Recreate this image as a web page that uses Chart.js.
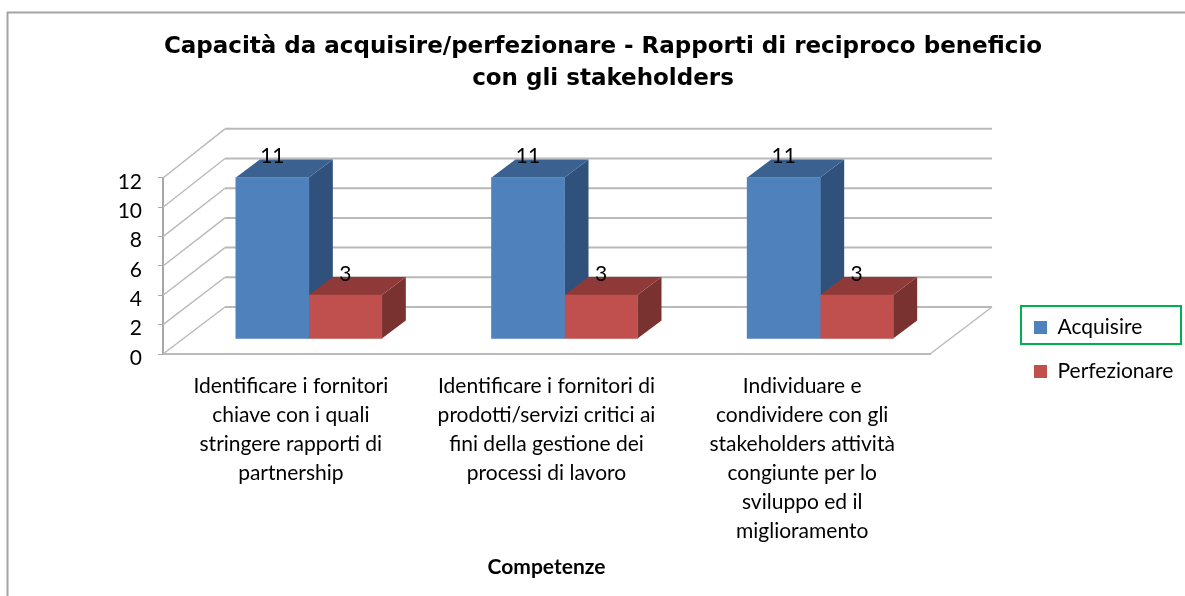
<!DOCTYPE html>
<html lang="it">
<head>
<meta charset="utf-8">
<title>Capacità da acquisire/perfezionare</title>
<script src="https://cdn.jsdelivr.net/npm/chart.js@4"></script>
<style>
  html, body { margin: 0; padding: 0; background: #fff; overflow: hidden; }
  #wrap { width: 1185px; height: 596px; }
</style>
</head>
<body>
<div id="wrap"><canvas id="chart" width="1185" height="596"></canvas></div>
<script>
const titleLines = [
  'Capacità da acquisire/perfezionare - Rapporti di reciproco beneficio',
  'con gli stakeholders',
];
const axisTitle = 'Competenze';
const categories = [
  ['Identificare i fornitori', 'chiave con i quali', 'stringere rapporti di', 'partnership'],
  ['Identificare i fornitori di', 'prodotti/servizi critici ai', 'fini della gestione dei', 'processi di lavoro'],
  ['Individuare e', 'condividere con gli', 'stakeholders attività', 'congiunte per lo', 'sviluppo ed il', 'miglioramento'],
];
const acquisire = [11, 11, 11];
const perfezionare = [3, 3, 3];

const LABEL_FONT = 'Lato, Carlito, sans-serif';
const GRID_COLOR = '#b9b9b9';

// 3D look: walls and bars are pushed back from the front plane of the scales
const WALL_DX = 62;
const WALL_DY = 47;
const WALL_RISE = 1.012;
const BAR_SHIFT_X = 18;
const BAR_SHIFT_Y = 15;
const BAR_DX = 24;
const BAR_DY = 18;

const shades = [
  { top: '#3b6191', side: '#30517b' },
  { top: '#8f3a38', side: '#7a3230' },
];

function fillPoly(ctx, color, points) {
  ctx.fillStyle = color;
  ctx.beginPath();
  points.forEach(([x, y], i) => (i ? ctx.lineTo(x, y) : ctx.moveTo(x, y)));
  ctx.closePath();
  ctx.fill();
}

function strokeLine(ctx, x1, y1, x2, y2) {
  ctx.beginPath();
  ctx.moveTo(x1, y1);
  ctx.lineTo(x2, y2);
  ctx.stroke();
}

const pseudo3d = {
  id: 'pseudo3d',
  afterLayout(chart) {
    // title is centred on the whole frame, legend sits low on the right
    chart.titleBlock.left = 21;
    chart.titleBlock.right = 1185;
    const { legend } = chart;
    legend.left = 1011;
    legend.right = 1185;
    legend.top = 294;
    legend.bottom = 460;
  },
  beforeDraw(chart) {
    const { ctx } = chart;
    ctx.save();
    ctx.strokeStyle = '#a3a3a3';
    ctx.lineWidth = 2;
    strokeLine(ctx, 7.5, 12, 7.5, 596);
    strokeLine(ctx, 7, 12.5, 1185, 12.5);
    ctx.restore();
  },
  beforeDatasetsDraw(chart) {
    const { ctx, scales } = chart;
    const { left, right } = scales.x;
    const floorY = scales.y.getPixelForValue(0);
    ctx.save();
    ctx.strokeStyle = GRID_COLOR;
    scales.y.ticks.forEach((tick) => {
      const y = scales.y.getPixelForValue(tick.value);
      const backY = floorY - WALL_DY - (floorY - y) * WALL_RISE;
      ctx.lineWidth = 1.4;
      strokeLine(ctx, left, y, left + WALL_DX, backY);
      ctx.lineWidth = 2;
      strokeLine(ctx, left + WALL_DX, backY, right + WALL_DX, backY);
    });
    ctx.lineWidth = 1.4;
    strokeLine(ctx, right, floorY, right + WALL_DX, floorY - WALL_DY);
    ctx.restore();

    // side and top faces of the bars, blue first so the red ones cover it
    ctx.save();
    ctx.translate(BAR_SHIFT_X, -BAR_SHIFT_Y);
    chart.data.datasets.forEach((dataset, i) => {
      chart.getDatasetMeta(i).data.forEach((bar) => {
        const l = bar.x - bar.width / 2;
        const r = bar.x + bar.width / 2;
        fillPoly(ctx, shades[i].side, [
          [r, bar.y], [r + BAR_DX, bar.y - BAR_DY],
          [r + BAR_DX, bar.base - BAR_DY], [r, bar.base],
        ]);
        fillPoly(ctx, shades[i].top, [
          [l, bar.y], [l + BAR_DX, bar.y - BAR_DY],
          [r + BAR_DX, bar.y - BAR_DY], [r, bar.y],
        ]);
      });
    });
    ctx.restore();
  },
  beforeDatasetDraw(chart) {
    chart.ctx.save();
    chart.ctx.translate(BAR_SHIFT_X, -BAR_SHIFT_Y);
  },
  afterDatasetDraw(chart) {
    chart.ctx.restore();
  },
  afterDatasetsDraw(chart) {
    const { ctx } = chart;
    ctx.save();
    ctx.fillStyle = '#000';
    ctx.font = `21px ${LABEL_FONT}`;
    ctx.textAlign = 'center';
    ctx.textBaseline = 'middle';
    chart.data.datasets.forEach((dataset, i) => {
      chart.getDatasetMeta(i).data.forEach((bar, j) => {
        ctx.fillText(dataset.data[j], bar.x + BAR_SHIFT_X, bar.y - BAR_SHIFT_Y - 21);
      });
    });
    ctx.restore();
  },
  afterDraw(chart) {
    // green selection box around the first legend entry
    const { ctx } = chart;
    ctx.save();
    ctx.strokeStyle = '#00b050';
    ctx.lineWidth = 2;
    ctx.strokeRect(1021, 306, 160, 38);
    ctx.restore();
  },
};

new Chart(document.getElementById('chart'), {
  type: 'bar',
  data: {
    labels: categories,
    datasets: [
      { label: 'Acquisire', data: acquisire, backgroundColor: '#4f81bd', barThickness: 73, clip: false },
      { label: 'Perfezionare', data: perfezionare, backgroundColor: '#c0504d', barThickness: 73, clip: false },
    ],
  },
  options: {
    responsive: false,
    animation: false,
    layout: { padding: { left: 0, right: 255, top: 0, bottom: 0 } },
    plugins: {
      tooltip: { enabled: false },
      title: {
        display: true,
        text: titleLines,
        color: '#000',
        font: { family: '"DejaVu Sans", Verdana, sans-serif', size: 23, weight: 'bold', lineHeight: 1.39 },
        padding: { top: 31, bottom: 83 },
      },
      legend: {
        position: 'chartArea',
        align: 'start',
        labels: {
          boxWidth: 13,
          boxHeight: 13,
          padding: 23,
          color: '#000',
          font: { family: LABEL_FONT, size: 21 },
        },
      },
    },
    scales: {
      x: {
        afterFit(scale) { scale.height = 242; },
        grid: { display: false },
        border: { color: GRID_COLOR, width: 2 },
        ticks: {
          color: '#000',
          autoSkip: false,
          maxRotation: 0,
          padding: 10,
          font: { family: LABEL_FONT, size: 21, lineHeight: 1.38 },
        },
        title: {
          display: true,
          text: axisTitle,
          color: '#000',
          font: { family: LABEL_FONT, size: 21, weight: 'bold' },
          padding: { top: 0, bottom: 16 },
        },
      },
      y: {
        min: 0,
        max: 12,
        afterFit(scale) { scale.width = 163; },
        grid: { drawOnChartArea: false, color: '#a8a8a8', tickLength: 5 },
        border: { color: '#a8a8a8', width: 2 },
        ticks: {
          stepSize: 2,
          color: '#000',
          padding: 16,
          labelOffset: 4,
          font: { family: LABEL_FONT, size: 21 },
        },
      },
    },
  },
  plugins: [pseudo3d],
});
</script>
</body>
</html>
